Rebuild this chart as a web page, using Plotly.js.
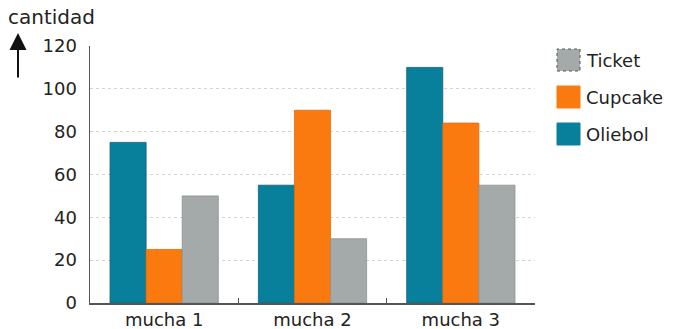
<!DOCTYPE html>
<html><head><meta charset="utf-8">
<script src="https://cdn.plot.ly/plotly-3.0.1.min.js"></script>
<style>html,body{margin:0;padding:0;background:#fff}#c{width:673px;height:329px}</style>
</head><body><div id="c"></div>
<script>
const categories = ["mucha 1", "mucha 2", "mucha 3"];
const oliebol = [75, 55, 110];
const cupcake = [25, 90, 84];
const ticket = [50, 30, 55];
const seriesNames = ["Oliebol", "Cupcake", "Ticket"];
const yTicks = [0, 20, 40, 60, 80, 100, 120];

const colors = {Oliebol: "#08809c", Cupcake: "#fb7a10", Ticket: "#a3aaa9"};
const lines = {Oliebol: "#0a6378", Cupcake: "#e06a0a", Ticket: "#8c9392"};
const font = "DejaVu Sans, sans-serif";

const data = [oliebol, cupcake, ticket].map((v, i) => ({
  type: "bar", x: categories, y: v, name: seriesNames[i],
  marker: {color: colors[seriesNames[i]], line: {color: lines[seriesNames[i]], width: 0.8}},
  showlegend: false, hoverinfo: "none"
}));

// manual legend (order as in reference: Ticket, Cupcake, Oliebol)
const legendOrder = ["Ticket", "Cupcake", "Oliebol"];
const shapes = [];
const annotations = [];
legendOrder.forEach((n, i) => {
  const cy = 60 + i * 37;
  shapes.push({type: "rect", xref: "paper", yref: "paper",
    x0: (557 - 90) / 445, x1: (580 - 90) / 445,
    y0: (303 - (cy + 11)) / 257, y1: (303 - (cy - 11)) / 257,
    fillcolor: colors[n],
    line: {color: n === "Ticket" ? "#555" : colors[n], width: 1, dash: n === "Ticket" ? "dot" : "solid"}});
  annotations.push({xref: "paper", yref: "paper", x: (584 - 90) / 445, y: (303 - cy) / 257,
    xanchor: "left", yanchor: "middle", text: n, showarrow: false,
    font: {family: font, size: 18, color: "#222"}});
});
annotations.push({xref: "paper", yref: "paper", x: (6 - 90) / 445, y: (303 - 17) / 257,
  xanchor: "left", yanchor: "middle", text: "cantidad", showarrow: false,
  font: {family: font, size: 20, color: "#222"}});
annotations.push({xref: "paper", yref: "paper", x: (18 - 90) / 445, y: (303 - 33) / 257,
  text: "", showarrow: true, ax: 0, ay: 46, arrowhead: 2, arrowsize: 1.7, arrowwidth: 2,
  arrowcolor: "#111"});

const layout = {
  width: 673, height: 329,
  margin: {l: 90, r: 138, t: 46, b: 26},
  paper_bgcolor: "#fff", plot_bgcolor: "#fff",
  barmode: "group", bargap: 0.27, bargroupgap: 0,
  font: {family: font, size: 18, color: "#222"},
  xaxis: {type: "category", showline: true, linecolor: "#555", linewidth: 1.5,
    ticks: "inside", tickson: "boundaries", ticklen: 5, tickcolor: "#555",
    tickfont: {family: font, size: 18, color: "#222"}, showgrid: false, fixedrange: true},
  yaxis: {range: [0, 120], tickvals: yTicks, showline: true, linecolor: "#555", linewidth: 1.5,
    ticks: "", gridcolor: "#d4d4d4", griddash: "dot", gridwidth: 1, zeroline: false,
    tickfont: {family: font, size: 18, color: "#222"}, ticklabelstandoff: 8},
  shapes: shapes, annotations: annotations
};
Plotly.newPlot("c", data, layout, {displayModeBar: false, staticPlot: true});
</script></body></html>
